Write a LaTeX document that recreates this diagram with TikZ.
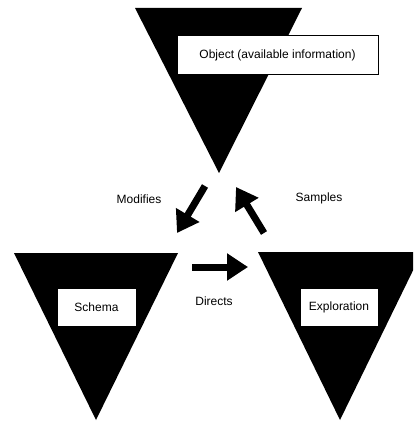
\documentclass[tikz,border=0pt]{standalone}
\usepackage{fontspec}
\setmainfont{Liberation Sans}
\usetikzlibrary{arrows.meta}
\begin{document}
\begin{tikzpicture}[x=1pt,y=-1pt,
  tri/.style={fill=black,draw=none},
  labelbox/.style={draw=black,line width=0.8pt,fill=white,inner sep=0pt,font=\fontsize{12}{14}\selectfont},
  lbl/.style={font=\fontsize{12}{14}\selectfont,inner sep=0pt},
  blockarrow/.style={line width=7pt,-{Triangle[length=21pt,width=26pt]}}]
\useasboundingbox (0,0) rectangle (413,422);
\clip (0,0) rectangle (413,422);
% triangles
\fill[tri] (135,8) -- (302,8) -- (219,173) -- cycle;
\fill[tri] (14,253) -- (178,253) -- (96,420) -- cycle;
\fill[tri] (258,252) -- (422,252) -- (340,420) -- cycle;
% boxes
\node[labelbox,minimum width=201pt,minimum height=39pt] (obj) at (277.5,55) {Object (available information)};
\node[labelbox,minimum width=79pt,minimum height=38pt] (schema) at (96.5,307) {Schema};
\node[labelbox,minimum width=78pt,minimum height=38pt] (expl) at (339,307) {Exploration};
% arrows
\coordinate (m1) at (205,186);
\coordinate (m2) at (177,233);
\coordinate (s1) at (264,233);
\coordinate (s2) at (236,187);
\coordinate (d1) at (192,267);
\coordinate (d2) at (248,267);
\draw[blockarrow] (m1) -- (m2);
\draw[blockarrow] (s1) -- (s2);
\draw[blockarrow] (d1) -- (d2);
% labels
\node[lbl] (mod) at (139,199) {Modifies};
\node[lbl] (samp) at (319,198) {Samples};
\node[lbl] (dir) at (214,301) {Directs};
\end{tikzpicture}
\end{document}
